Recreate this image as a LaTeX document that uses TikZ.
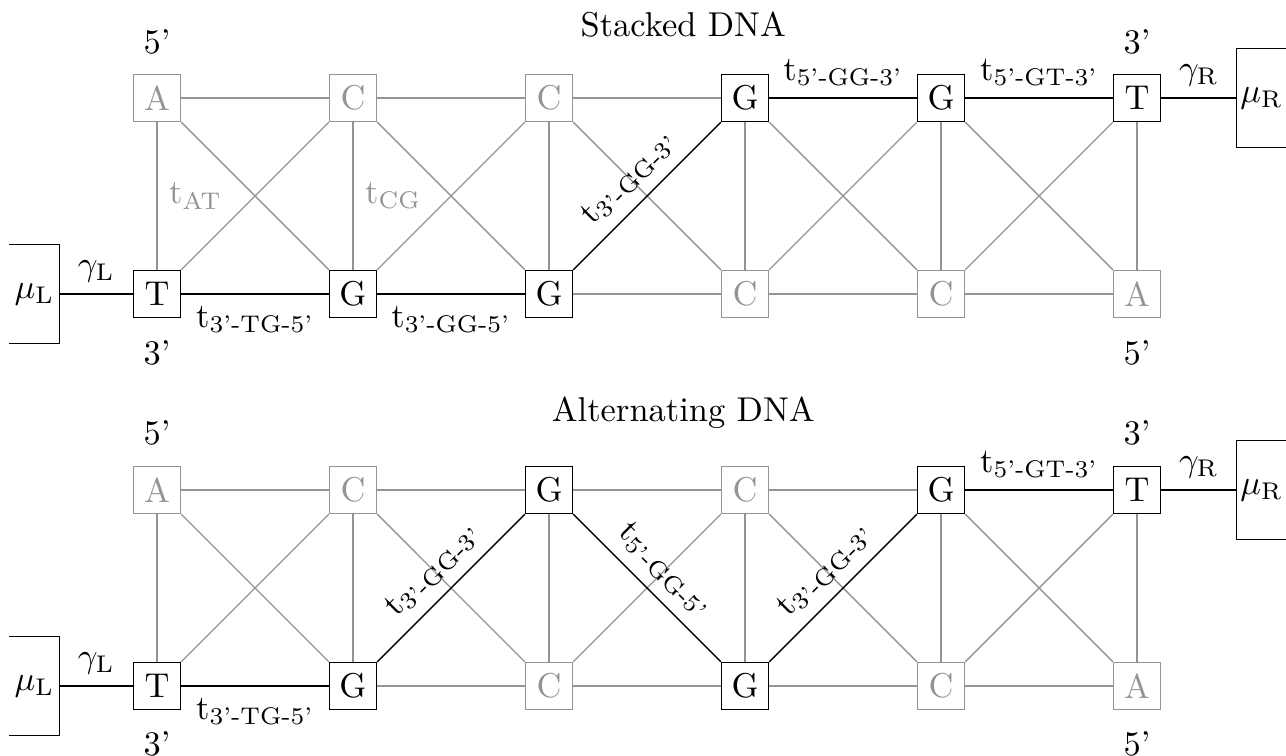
\documentclass[tikz,border=0pt]{standalone}
\definecolor{faint}{gray}{0.58}
\tikzset{
  base/.style={draw=black,minimum size=0.48cm,inner sep=0pt},
  pale/.style={draw=faint,text=faint},
  bath/.style={minimum width=0.5cm,minimum height=1cm,inner sep=0pt}
}
\begin{document}
\begin{tikzpicture}
  \useasboundingbox (-1.602,-4.714) rectangle (11.52,3.0);
  % titles and strand ends
  \node (stitle) at (5.37,2.745) {Stacked DNA};
  \node (atitle) at (5.37,-1.214) {Alternating DNA};
  \node (s5a) at (0,2.57) {5'};
  \node (s3a) at (10,2.57) {3'};
  \node (s3b) at (0,-0.6) {3'};
  \node (s5b) at (10,-0.6) {5'};
  \node (a5a) at (0,-1.42) {5'};
  \node (a3a) at (10,-1.42) {3'};
  \node (a3b) at (0,-4.59) {3'};
  \node (a5b) at (10,-4.59) {5'};
  % leads
  \node[bath] (smuL) at (-1.25,0) {$\mu_\mathrm{L}$};
  \node[bath] (smuR) at (11.27,2) {$\mu_\mathrm{R}$};
  \node[bath] (amuL) at (-1.25,-4) {$\mu_\mathrm{L}$};
  \node[bath] (amuR) at (11.27,-2) {$\mu_\mathrm{R}$};
  \draw (smuL.north west) -- (smuL.north east) -- (smuL.south east) -- (smuL.south west);
  \draw (amuL.north west) -- (amuL.north east) -- (amuL.south east) -- (amuL.south west);
  \draw (smuR.north east) -- (smuR.north west) -- (smuR.south west) -- (smuR.south east);
  \draw (amuR.north east) -- (amuR.north west) -- (amuR.south west) -- (amuR.south east);
  % stacked DNA
  \begin{scope}[every node/.style={base}]
    \node[pale] (st1) at ( 0, 2) {A};
    \node[pale] (st2) at ( 2, 2) {C};
    \node[pale] (st3) at ( 4, 2) {C};
    \node (st4) at ( 6, 2) {G};
    \node (st5) at ( 8, 2) {G};
    \node (st6) at (10, 2) {T};
    \node (sb1) at ( 0, 0) {T};
    \node (sb2) at ( 2, 0) {G};
    \node (sb3) at ( 4, 0) {G};
    \node[pale] (sb4) at ( 6, 0) {C};
    \node[pale] (sb5) at ( 8, 0) {C};
    \node[pale] (sb6) at (10, 0) {A};
  \end{scope}
  % alternating DNA
  \begin{scope}[every node/.style={base}]
    \node[pale] (at1) at ( 0,-2) {A};
    \node[pale] (at2) at ( 2,-2) {C};
    \node (at3) at ( 4,-2) {G};
    \node[pale] (at4) at ( 6,-2) {C};
    \node (at5) at ( 8,-2) {G};
    \node (at6) at (10,-2) {T};
    \node (ab1) at ( 0,-4) {T};
    \node (ab2) at ( 2,-4) {G};
    \node[pale] (ab3) at ( 4,-4) {C};
    \node (ab4) at ( 6,-4) {G};
    \node[pale] (ab5) at ( 8,-4) {C};
    \node[pale] (ab6) at (10,-4) {A};
  \end{scope}
  \begin{scope}[every edge/.style={draw=faint}]
    \path (st1) edge (st2) edge node[right,text=faint]{t\textsubscript{AT}} (sb1) edge (sb2);
    \path (st2) edge (st3) edge node[right,text=faint]{t\textsubscript{CG}} (sb2) edge (sb1) edge (sb3);
    \path (st3) edge (st4) edge (sb3) edge (sb2) edge (sb4);
    \path (st4) edge (sb4) edge (sb5);
    \path (st5) edge (sb5) edge (sb4) edge (sb6);
    \path (st6) edge (sb6) edge (sb5);
    \path (sb3) edge (sb4);
    \path (sb4) edge (sb5);
    \path (sb5) edge (sb6);
    \path (at1) edge (at2) edge (ab1) edge (ab2);
    \path (at2) edge (at3) edge (ab2) edge (ab1) edge (ab3);
    \path (at3) edge (at4) edge (ab3);
    \path (at4) edge (at5) edge (ab4) edge (ab3) edge (ab5);
    \path (at5) edge (ab5) edge (ab6);
    \path (at6) edge (ab6) edge (ab5);
    \path (ab2) edge (ab3);
    \path (ab3) edge (ab4);
    \path (ab4) edge (ab5);
    \path (ab5) edge (ab6);
  \end{scope}
  \begin{scope}[every edge/.style={draw=black}]
    \path (smuL) edge node[above]{$\gamma_\mathrm{L}$} (sb1);
    \path (sb1) edge node[below]{t\textsubscript{3'-TG-5'}} (sb2);
    \path (sb2) edge node[below]{t\textsubscript{3'-GG-5'}} (sb3);
    \path (sb3) edge node[sloped,above]{t\textsubscript{3'-GG-3'}} (st4);
    \path (st4) edge node[above]{t\textsubscript{5'-GG-3'}} (st5);
    \path (st5) edge node[above]{t\textsubscript{5'-GT-3'}} (st6);
    \path (st6) edge node[above]{$\gamma_\mathrm{R}$} (smuR);
    \path (amuL) edge node[above]{$\gamma_\mathrm{L}$} (ab1);
    \path (ab1) edge node[below]{t\textsubscript{3'-TG-5'}} (ab2);
    \path (ab2) edge node[sloped,above]{t\textsubscript{3'-GG-3'}} (at3);
    \path (at3) edge node[sloped,above]{t\textsubscript{5'-GG-5'}} (ab4);
    \path (ab4) edge node[sloped,above]{t\textsubscript{3'-GG-3'}} (at5);
    \path (at5) edge node[above]{t\textsubscript{5'-GT-3'}} (at6);
    \path (at6) edge node[above]{$\gamma_\mathrm{R}$} (amuR);
  \end{scope}
\end{tikzpicture}
\end{document}
